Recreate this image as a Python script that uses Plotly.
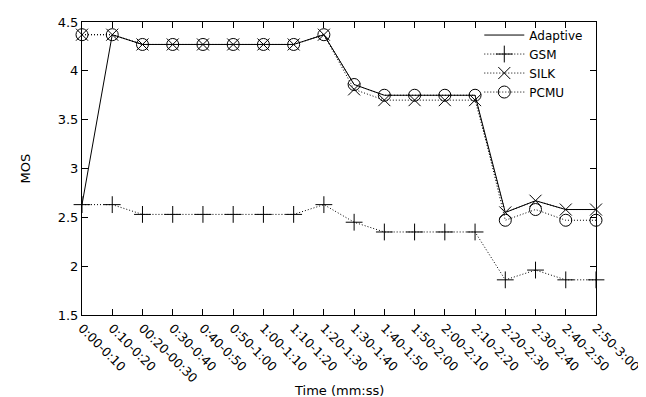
import plotly.graph_objects as go

categories = ["0:00-0:10", "0:10-0:20", "00:20-00:30", "0:30-0:40", "0:40-0:50",
              "0:50-1:00", "1:00-1:10", "1:10-1:20", "1:20-1:30", "1:30-1:40",
              "1:40-1:50", "1:50-2:00", "2:00-2:10", "2:10-2:20", "2:20-2:30",
              "2:30-2:40", "2:40-2:50", "2:50-3:00"]

adaptive = [2.63, 4.37, 4.27, 4.27, 4.27, 4.27, 4.27, 4.27, 4.37, 3.86,
            3.75, 3.75, 3.75, 3.75, 2.55, 2.67, 2.58, 2.58]
gsm = [2.63, 2.63, 2.53, 2.53, 2.53, 2.53, 2.53, 2.53, 2.63, 2.45,
       2.35, 2.35, 2.35, 2.35, 1.86, 1.96, 1.86, 1.86]
silk = [4.37, 4.37, 4.27, 4.27, 4.27, 4.27, 4.27, 4.27, 4.37, 3.81,
        3.70, 3.70, 3.70, 3.70, 2.55, 2.67, 2.58, 2.58]
pcmu = [4.37, 4.37, 4.27, 4.27, 4.27, 4.27, 4.27, 4.27, 4.37, 3.86,
        3.75, 3.75, 3.75, 3.75, 2.47, 2.58, 2.47, 2.47]

y_ticks = [1.5, 2, 2.5, 3, 3.5, 4, 4.5]

FONT = "DejaVu Sans"
DOT = "1px,2px"
fig = go.Figure()

fig.add_trace(go.Scatter(x=categories, y=adaptive, name="Adaptive", mode="lines",
                         line=dict(color="black", width=1), cliponaxis=False))
fig.add_trace(go.Scatter(x=categories, y=gsm, name="GSM", mode="lines+markers",
                         line=dict(color="black", width=1, dash=DOT),
                         marker=dict(symbol="cross-thin-open", size=12,
                                     line=dict(color="black", width=1)),
                         cliponaxis=False))
fig.add_trace(go.Scatter(x=categories, y=silk, name="SILK", mode="lines+markers",
                         line=dict(color="black", width=1, dash=DOT),
                         marker=dict(symbol="x-thin-open", size=12,
                                     line=dict(color="black", width=1)),
                         cliponaxis=False))
fig.add_trace(go.Scatter(x=categories, y=pcmu, name="PCMU", mode="lines+markers",
                         line=dict(color="black", width=1, dash=DOT),
                         marker=dict(symbol="circle-open", size=12, color="black",
                                     line=dict(color="black", width=1)),
                         cliponaxis=False))

fig.update_layout(
    width=646, height=397,
    margin=dict(l=74, r=58, t=14, b=90, autoexpand=False),
    paper_bgcolor="white", plot_bgcolor="white",
    font=dict(family=FONT, size=12, color="black"),
    showlegend=True,
    legend=dict(x=0.985, y=1.005, xanchor="right", yanchor="top",
                bgcolor="rgba(0,0,0,0)", font=dict(family=FONT, size=12),
                tracegroupgap=0, itemwidth=40),
    annotations=[
        dict(text="Time (mm:ss)", xref="paper", yref="paper", x=0.5, y=-0.256,
             xanchor="center", yanchor="middle", showarrow=False,
             font=dict(family=FONT, size=13)),
        dict(text="MOS", xref="paper", yref="paper", x=-0.109, y=0.5,
             xanchor="center", yanchor="middle", showarrow=False, textangle=-90,
             font=dict(family=FONT, size=13)),
    ],
)
fig.update_xaxes(
    type="category", range=[0, len(categories) - 1], automargin=False,
    tickangle=45, ticks="inside", ticklen=6, tickcolor="black",
    tickfont=dict(family=FONT, size=12.5),
    showline=True, linecolor="black", linewidth=1, mirror="ticks",
    showgrid=False, zeroline=False,
)
fig.update_yaxes(
    range=[1.5, 4.5], tickvals=y_ticks, ticktext=[f"{v:g}" for v in y_ticks],
    automargin=False, tickfont=dict(family=FONT, size=13),
    ticks="inside", ticklen=6, tickcolor="black",
    showline=True, linecolor="black", linewidth=1, mirror="ticks",
    showgrid=False, zeroline=False,
)

fig.write_html("out.html")
